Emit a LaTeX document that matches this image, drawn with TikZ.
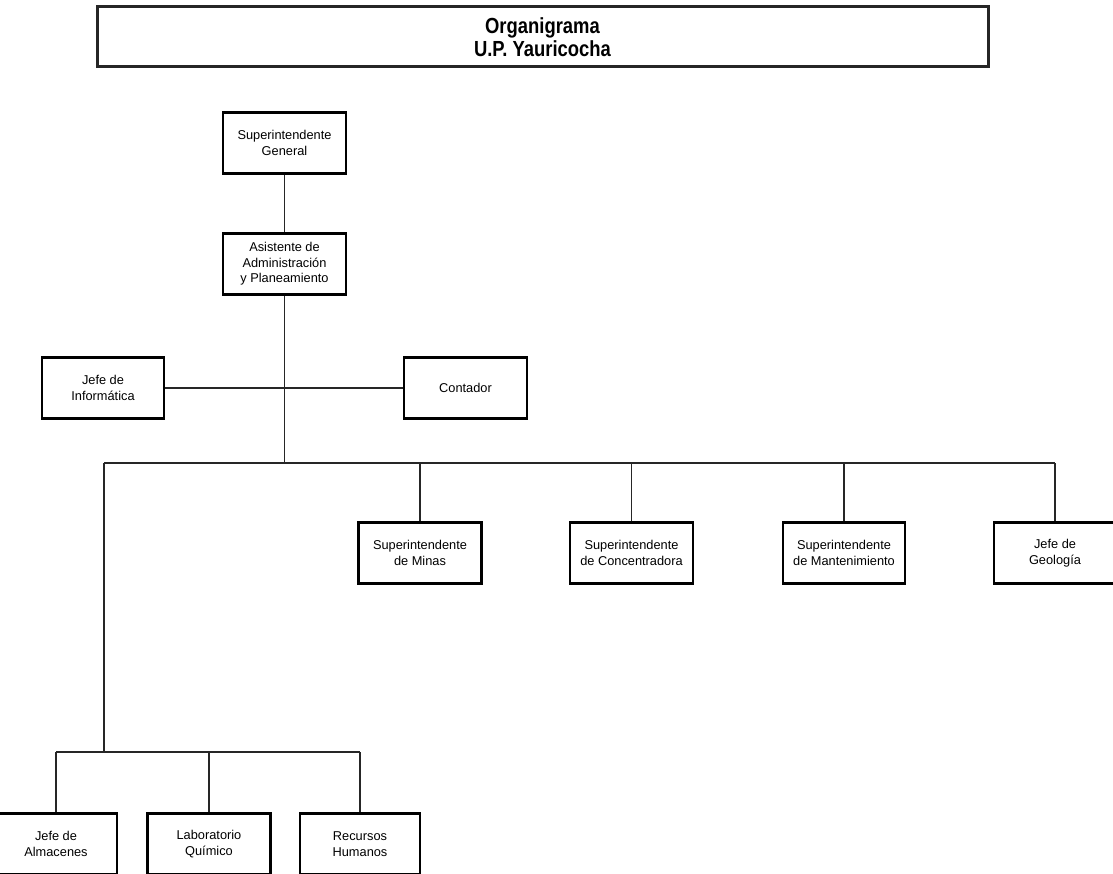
\documentclass[tikz,border=0pt]{standalone}
\usepackage{fontspec}
\setmainfont{Liberation Sans}
\begin{document}
\begin{tikzpicture}[x=1pt,y=-1pt,
  box/.style={draw=black,line width=2.6pt,fill=white,align=center,inner sep=0pt,
    font=\fontsize{12.8}{15.5}\selectfont,minimum width=123pt,minimum height=61pt},
  titlebox/.style={draw=black!85,line width=3pt,align=center,inner sep=0pt,
    font=\fontsize{19}{22}\selectfont\bfseries,minimum width=891pt,minimum height=60pt},
  conn/.style={draw=black!85,line width=1.7pt}]
\useasboundingbox[fill=white] (0,0) rectangle (1113,874);
% title
\node[titlebox] (tit) at (542.5,37) {\scalebox{0.97}[1.15]{Organigrama}\\[1pt]\scalebox{0.97}[1.15]{U.P. Yauricocha}};
% boxes
\node[box] (sg) at (284.5,143) {Superintendente\\General};
\node[box] (asis) at (284.5,264) {Asistente de\\Administración\\y Planeamiento};
\node[box,minimum width=122pt] (inf) at (103,388) {Jefe de\\Informática};
\node[box] (cont) at (465.5,388) {Contador};
\node[box] (min) at (420,553) {Superintendente\\de Minas};
\node[box] (conc) at (631.5,553) {Superintendente\\de Concentradora};
\node[box,minimum width=122pt] (mant) at (844,553) {Superintendente\\de Mantenimiento};
\node[box,minimum width=122pt] (geo) at (1055,553) {Jefe de\\Geología};
\node[box,minimum width=122pt] (alm) at (56,844) {Jefe de\\Almacenes};
\node[box] (lab) at (209,844) {Laboratorio\\Químico};
\node[box,minimum width=120pt] (rh) at (360,844) {Recursos\\Humanos};
% junction coordinates
\coordinate (bar) at (284.5,463);
\coordinate (barL) at (104,463);
\coordinate (sub) at (104,752);
% connectors
\draw[conn] (sg.south) -- (asis.north);
\draw[conn] (asis.south) -- (bar);
\draw[conn] (inf.east) -- (cont.west);
\draw[conn] (barL) -- (geo.north |- bar);
\foreach \n in {min,conc,mant,geo} \draw[conn] (\n.north) -- (\n.north |- bar);
\draw[conn] (barL) -- (sub);
\draw[conn] (alm.north |- sub) -- (rh.north |- sub);
\foreach \n in {alm,lab,rh} \draw[conn] (\n.north) -- (\n.north |- sub);
\end{tikzpicture}
\end{document}
